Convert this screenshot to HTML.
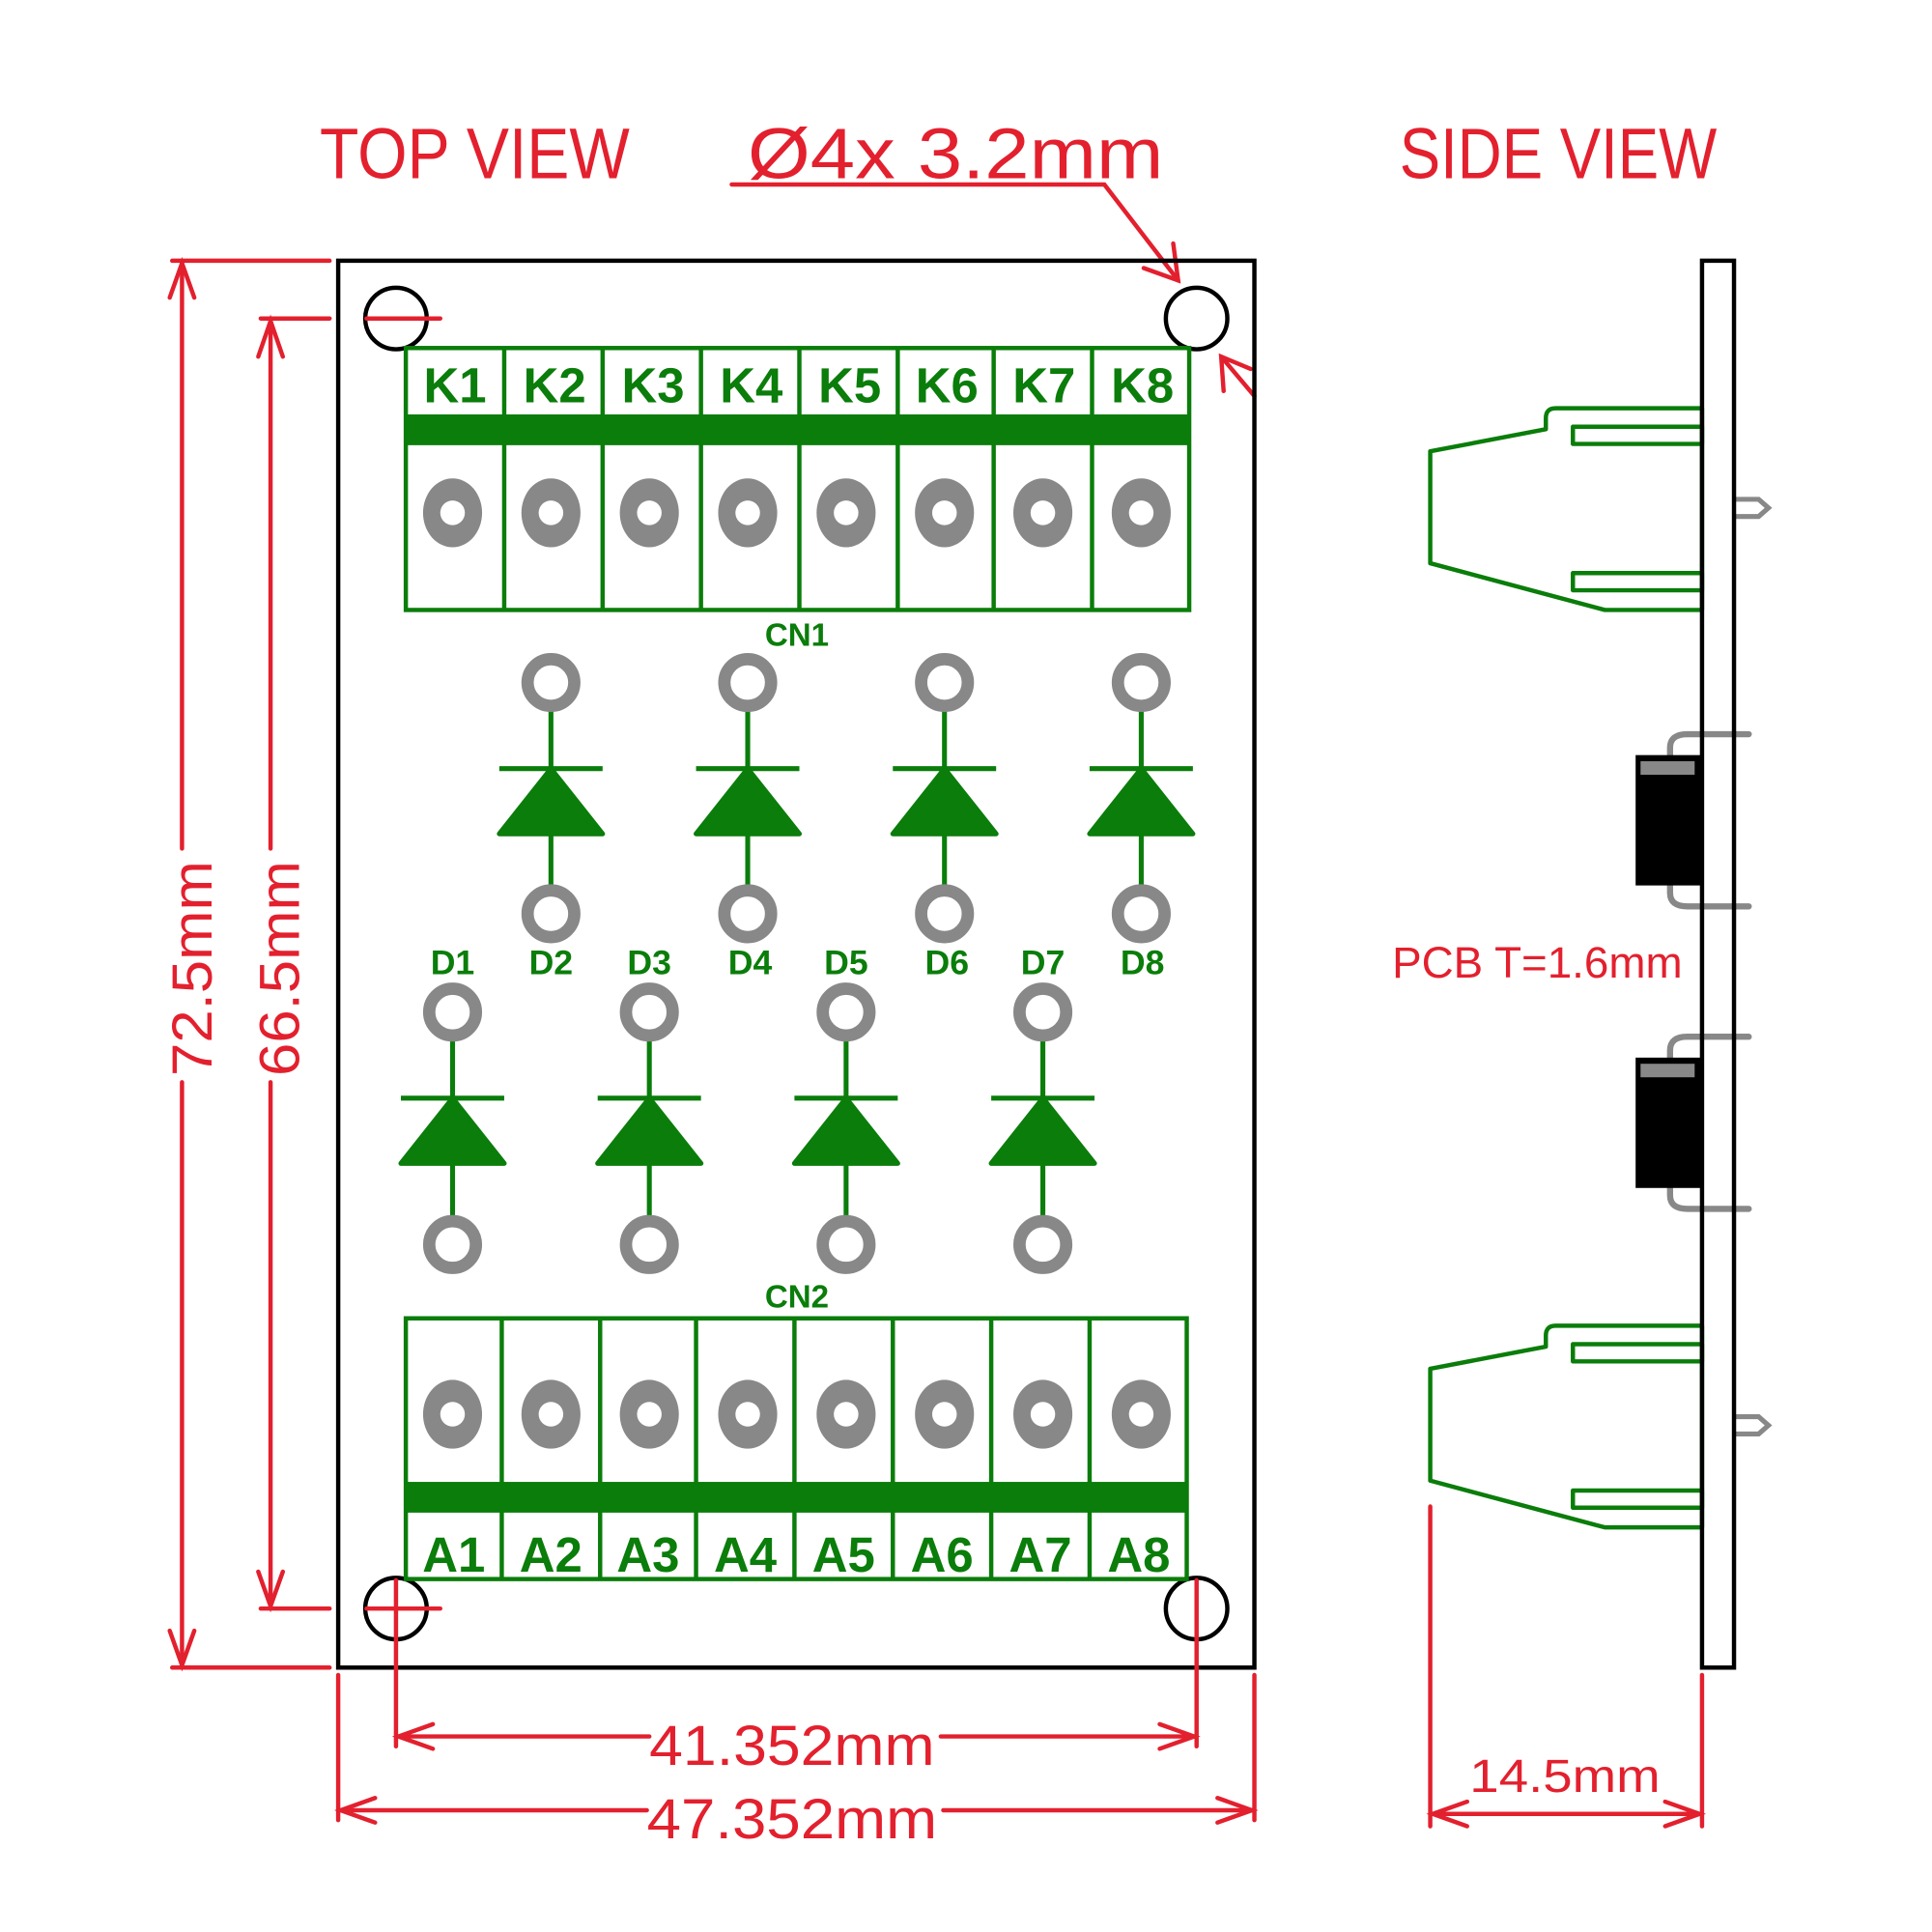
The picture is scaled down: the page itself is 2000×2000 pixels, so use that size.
<!DOCTYPE html>
<html><head><meta charset="utf-8"><style>
html,body{margin:0;padding:0;background:#fff;}
svg{display:block;}
text{font-family:"Liberation Sans",sans-serif;}
</style></head><body>
<svg width="2000" height="2000" viewBox="0 0 1571 1571" xmlns="http://www.w3.org/2000/svg">
<rect width="1571" height="1571" fill="#fff"/>
<defs>
<g id="pad"><ellipse cx="0" cy="0" rx="24" ry="28" fill="#888"/><circle r="10" fill="#fff"/></g>
<g id="rpad"><circle r="19" fill="none" stroke="#888" stroke-width="10"/></g>
<g id="diode" stroke="#0a7d0a" stroke-width="4" fill="#0a7d0a">
<line x1="0" y1="18" x2="0" y2="170"/>
<line x1="-42" y1="70" x2="42" y2="70"/>
<polygon points="0,70 -42,123 42,123" stroke-linejoin="round"/>
</g>
</defs>

<!-- titles -->
<g fill="#e3202e" font-size="58">
<text x="260" y="145" textLength="252" lengthAdjust="spacingAndGlyphs">TOP  VIEW</text>
<text x="608" y="145" textLength="338" lengthAdjust="spacingAndGlyphs">Ø4x  3.2mm</text>
<text x="1138" y="145" textLength="258" lengthAdjust="spacingAndGlyphs">SIDE  VIEW</text>
</g>
<g stroke="#e3202e" stroke-width="3.5" fill="none" stroke-linecap="round">
<polyline points="595,150 898,150 958,228"/>
<polyline points="930,218 958,228 954,198"/>
<line x1="993" y1="290" x2="1020" y2="322"/>
<polyline points="995,318 993,290 1017,300"/>
</g>

<!-- board -->
<rect x="275" y="212" width="745" height="1144" fill="none" stroke="#000" stroke-width="3.5"/>
<g fill="none" stroke="#000" stroke-width="3.5">
<circle cx="322" cy="259" r="25"/><circle cx="973" cy="259" r="25"/>
<circle cx="322" cy="1308" r="25"/><circle cx="973" cy="1308" r="25"/>
</g>

<!-- dimension lines -->
<g stroke="#e3202e" stroke-width="3.5" fill="none" stroke-linecap="round">
<line x1="140" y1="212" x2="268" y2="212"/>
<line x1="140" y1="1356" x2="268" y2="1356"/>
<line x1="148" y1="214" x2="148" y2="690"/>
<line x1="148" y1="880" x2="148" y2="1354"/>
<polyline points="138,242 148,214 158,242"/>
<polyline points="138,1326 148,1354 158,1326"/>
<line x1="212" y1="259" x2="268" y2="259"/>
<line x1="212" y1="1308" x2="268" y2="1308"/>
<line x1="298" y1="259" x2="358" y2="259"/>
<line x1="298" y1="1308" x2="358" y2="1308"/>
<line x1="220" y1="261" x2="220" y2="690"/>
<line x1="220" y1="880" x2="220" y2="1306"/>
<polyline points="210,290 220,261 230,290"/>
<polyline points="210,1278 220,1306 230,1278"/>
<line x1="322" y1="1285" x2="322" y2="1420"/>
<line x1="973" y1="1285" x2="973" y2="1420"/>
<line x1="275" y1="1362" x2="275" y2="1480"/>
<line x1="1020" y1="1362" x2="1020" y2="1480"/>
<line x1="324" y1="1412" x2="528" y2="1412"/>
<line x1="765" y1="1412" x2="971" y2="1412"/>
<polyline points="352,1402 324,1412 352,1422"/>
<polyline points="943,1402 971,1412 943,1422"/>
<line x1="277" y1="1472" x2="526" y2="1472"/>
<line x1="767" y1="1472" x2="1018" y2="1472"/>
<polyline points="305,1462 277,1472 305,1482"/>
<polyline points="990,1462 1018,1472 990,1482"/>
<line x1="1163" y1="1225" x2="1163" y2="1485"/>
<line x1="1384" y1="1362" x2="1384" y2="1485"/>
<line x1="1165" y1="1475" x2="1382" y2="1475"/>
<polyline points="1193,1465 1165,1475 1193,1485"/>
<polyline points="1354,1465 1382,1475 1354,1485"/>
</g>
<g fill="#e3202e">
<text x="528" y="1435" font-size="46" textLength="232" lengthAdjust="spacingAndGlyphs">41.352mm</text>
<text x="526" y="1495" font-size="46" textLength="236" lengthAdjust="spacingAndGlyphs">47.352mm</text>
<text x="1195" y="1457" font-size="38" textLength="155" lengthAdjust="spacingAndGlyphs">14.5mm</text>
<text x="1132" y="795" font-size="36" textLength="236" lengthAdjust="spacingAndGlyphs">PCB  T=1.6mm</text>
<text transform="translate(172,875) rotate(-90)" font-size="46" textLength="175" lengthAdjust="spacingAndGlyphs">72.5mm</text>
<text transform="translate(243,875) rotate(-90)" font-size="46" textLength="175" lengthAdjust="spacingAndGlyphs">66.5mm</text>
</g>

<!-- CN1 -->
<g stroke="#0a7d0a" stroke-width="3.5" fill="none">
<rect x="330" y="283" width="637" height="213"/>
<line x1="410" y1="283" x2="410" y2="496"/><line x1="490" y1="283" x2="490" y2="496"/>
<line x1="570" y1="283" x2="570" y2="496"/><line x1="650" y1="283" x2="650" y2="496"/>
<line x1="730" y1="283" x2="730" y2="496"/><line x1="808" y1="283" x2="808" y2="496"/>
<line x1="888" y1="283" x2="888" y2="496"/>
</g>
<rect x="330" y="337" width="637" height="25" fill="#0a7d0a"/>
<g fill="#0a7d0a" font-size="40" font-weight="bold" text-anchor="middle">
<text x="370" y="327">K1</text><text x="451" y="327">K2</text><text x="531" y="327">K3</text><text x="611" y="327">K4</text>
<text x="691" y="327">K5</text><text x="770" y="327">K6</text><text x="849" y="327">K7</text><text x="929" y="327">K8</text>
</g>
<use href="#pad" x="368" y="417"/><use href="#pad" x="448" y="417"/><use href="#pad" x="528" y="417"/><use href="#pad" x="608" y="417"/>
<use href="#pad" x="688" y="417"/><use href="#pad" x="768" y="417"/><use href="#pad" x="848" y="417"/><use href="#pad" x="928" y="417"/>
<text x="648" y="525" fill="#0a7d0a" font-size="26" font-weight="bold" text-anchor="middle">CN1</text>

<!-- diodes -->
<use href="#diode" x="448" y="555"/><use href="#diode" x="608" y="555"/><use href="#diode" x="768" y="555"/><use href="#diode" x="928" y="555"/>
<use href="#diode" x="368" y="823"/><use href="#diode" x="528" y="823"/><use href="#diode" x="688" y="823"/><use href="#diode" x="848" y="823"/>
<g>
<use href="#rpad" x="448" y="555"/><use href="#rpad" x="608" y="555"/><use href="#rpad" x="768" y="555"/><use href="#rpad" x="928" y="555"/>
<use href="#rpad" x="448" y="743"/><use href="#rpad" x="608" y="743"/><use href="#rpad" x="768" y="743"/><use href="#rpad" x="928" y="743"/>
<use href="#rpad" x="368" y="823"/><use href="#rpad" x="528" y="823"/><use href="#rpad" x="688" y="823"/><use href="#rpad" x="848" y="823"/>
<use href="#rpad" x="368" y="1012"/><use href="#rpad" x="528" y="1012"/><use href="#rpad" x="688" y="1012"/><use href="#rpad" x="848" y="1012"/>
</g>
<g fill="#0a7d0a" font-size="28" font-weight="bold" text-anchor="middle">
<text x="368" y="792">D1</text><text x="448" y="792">D2</text><text x="528" y="792">D3</text><text x="610" y="792">D4</text>
<text x="688" y="792">D5</text><text x="770" y="792">D6</text><text x="848" y="792">D7</text><text x="929" y="792">D8</text>
</g>

<!-- CN2 -->
<text x="648" y="1063" fill="#0a7d0a" font-size="26" font-weight="bold" text-anchor="middle">CN2</text>
<g stroke="#0a7d0a" stroke-width="3.5" fill="none">
<rect x="330" y="1072" width="635" height="212"/>
<line x1="408" y1="1072" x2="408" y2="1284"/><line x1="488" y1="1072" x2="488" y2="1284"/>
<line x1="566" y1="1072" x2="566" y2="1284"/><line x1="646" y1="1072" x2="646" y2="1284"/>
<line x1="726" y1="1072" x2="726" y2="1284"/><line x1="806" y1="1072" x2="806" y2="1284"/>
<line x1="886" y1="1072" x2="886" y2="1284"/>
</g>
<rect x="330" y="1205" width="635" height="25" fill="#0a7d0a"/>
<g fill="#0a7d0a" font-size="40" font-weight="bold" text-anchor="middle">
<text x="369" y="1278">A1</text><text x="448" y="1278">A2</text><text x="527" y="1278">A3</text><text x="606" y="1278">A4</text>
<text x="686" y="1278">A5</text><text x="766" y="1278">A6</text><text x="846" y="1278">A7</text><text x="926" y="1278">A8</text>
</g>
<use href="#pad" x="368" y="1150"/><use href="#pad" x="448" y="1150"/><use href="#pad" x="528" y="1150"/><use href="#pad" x="608" y="1150"/>
<use href="#pad" x="688" y="1150"/><use href="#pad" x="768" y="1150"/><use href="#pad" x="848" y="1150"/><use href="#pad" x="928" y="1150"/>

<!-- side view -->
<g id="sconn" fill="none" stroke="#0a7d0a" stroke-width="3.5" stroke-linejoin="round">
<path d="M1384,332 L1265,332 Q1257,332 1257,340 L1257,349 L1163,367 L1163,458 L1305,496 L1384,496"/>
<rect x="1279" y="347" width="105" height="14"/>
<rect x="1279" y="466" width="105" height="14"/>
<line x1="1384" y1="332" x2="1384" y2="496"/>
</g>
<path d="M1410,406 L1430,406 L1438,413 L1430,420 L1410,420" fill="none" stroke="#888" stroke-width="4"/>
<use href="#sconn" y="746"/>
<path d="M1410,1152 L1430,1152 L1438,1159 L1430,1166 L1410,1166" fill="none" stroke="#888" stroke-width="4"/>

<g fill="none" stroke="#888" stroke-width="5" stroke-linecap="round">
<path d="M1358,614 L1358,608 Q1358,597 1372,597 L1422,597"/>
<path d="M1358,718 L1358,726 Q1358,737 1372,737 L1422,737"/>
<path d="M1358,860 L1358,854 Q1358,843 1372,843 L1422,843"/>
<path d="M1358,964 L1358,972 Q1358,983 1372,983 L1422,983"/>
</g>
<rect x="1330" y="614" width="54" height="106" fill="#000"/>
<rect x="1334" y="619" width="44" height="11" fill="#888"/>
<rect x="1330" y="860" width="54" height="106" fill="#000"/>
<rect x="1334" y="865" width="44" height="11" fill="#888"/>
<rect x="1384" y="212" width="26" height="1144" fill="none" stroke="#000" stroke-width="3.5"/>
</svg>
</body></html>
